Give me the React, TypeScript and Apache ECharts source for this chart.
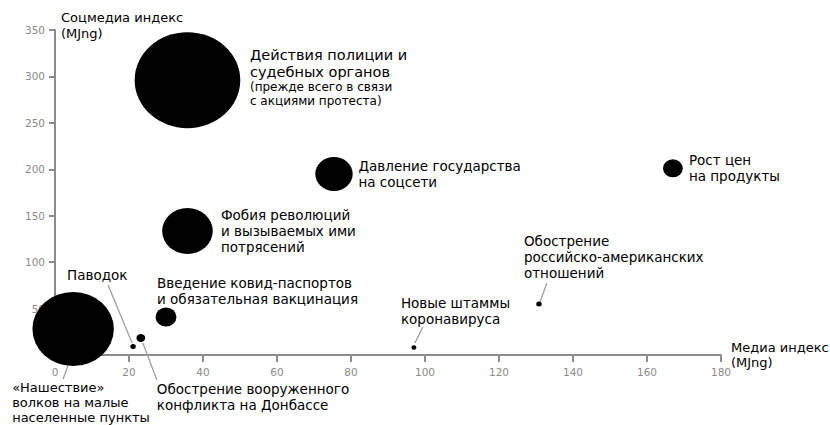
import { useEffect, useRef } from "react";
import * as echarts from "echarts";

// ---- data ----
const topics = [
  "Действия полиции и судебных органов",
  "«Нашествие» волков на малые населенные пункты",
  "Фобия революций и вызываемых ими потрясений",
  "Давление государства на соцсети",
  "Рост цен на продукты",
  "Введение ковид-паспортов и обязательная вакцинация",
  "Обострение вооруженного конфликта на Донбассе",
  "Паводок",
  "Новые штаммы коронавируса",
  "Обострение российско-американских отношений",
];
const mediaIndex = [35.8, 4.9, 35.8, 75.4, 167, 30, 23.2, 21.1, 97, 130.8];
const socialIndex = [296, 28, 133.5, 195, 201, 41, 18.3, 9.2, 8, 55];
const bubbleSize = [96, 74, 46, 34, 18, 19, 8, 5, 4.5, 5];
const labelTexts = [
  "{a|Действия полиции и}\n{a|судебных органов}\n{b|(прежде всего в связи}\n{b|с акциями протеста)}",
  "«Нашествие»\nволков на малые\nнаселенные пункты",
  "Фобия революций\nи вызываемых ими\nпотрясений",
  "Давление государства\nна соцсети",
  "Рост цен\nна продукты",
  "Введение ковид-паспортов\nи обязательная вакцинация",
  "Обострение вооруженного\nконфликта на Донбассе",
  "Паводок",
  "Новые штаммы\nкоронавируса",
  "Обострение\nроссийско-американских\nотношений",
];
const xAxisTitle = "Медиа индекс\n(MJng)";
const yAxisTitle = "Соцмедиа индекс\n(MJng)";

// ---- layout (pixel offsets, styling only) ----
const labelOffsets: number[][] = [
  [62.5, -34],
  [-61, 50.5],
  [33.5, -24],
  [24.5, -15.5],
  [16, -16],
  [-9, -41.5],
  [16, 43],
  [-66, -79.5],
  [-13, -52.5],
  [-15, -70.5],
];
const labelFontSizes = [13.5, 13, 13.5, 13.5, 13.5, 13.5, 13.5, 13.5, 13.5, 13.5];
const labelLineHeights = [16, 15, 16, 16, 16, 16, 16, 16, 16, 16];
const leaderOffsets: Record<number, number[]> = {
  1: [-5, 36, -10, 50],
  6: [2, 5, 16, 42],
  7: [-25, -61.5, -1, -3.5],
  8: [1, -4.5, 9, -20.5],
  9: [1, -2, 8, -21],
};
const STRETCH_X = 1.1;
const FONT = "DejaVu Sans";
const TICK_FONT = "DejaVu Sans";
const AXIS_COLOR = "#8c8c8c";

export default function App() {
  const ref = useRef<HTMLDivElement>(null);

  useEffect(() => {
    document.body.style.margin = "0";
    if (!ref.current) return;
    const chart = echarts.init(ref.current, undefined, { renderer: "svg" });

    const scatterData = topics.map((name, i) => ({
      name,
      value: [mediaIndex[i], socialIndex[i], bubbleSize[i]],
      label: {
        offset: labelOffsets[i],
        fontSize: labelFontSizes[i],
        lineHeight: labelLineHeights[i],
      },
    }));

    const leaderData = Object.keys(leaderOffsets).map((k) => {
      const i = Number(k);
      return [mediaIndex[i], socialIndex[i], i];
    });

    chart.setOption({
      animation: false,
      backgroundColor: "#ffffff",
      grid: {
        left: 55,
        right: 109,
        top: 30,
        bottom: 70,
        containLabel: false,
        outerBoundsMode: "none",
      },
      xAxis: {
        type: "value",
        min: 0,
        max: 180,
        interval: 20,
        name: xAxisTitle,
        nameLocation: "end",
        nameGap: 10,
        nameMoveOverlap: false,
        nameTextStyle: {
          color: "#000",
          fontFamily: FONT,
          fontSize: 13,
          lineHeight: 15.5,
          align: "left",
          verticalAlign: "middle",
          padding: [0, 0, 12, 0],
        },
        splitLine: { show: false },
        axisLine: { show: true, onZero: false, lineStyle: { color: AXIS_COLOR, width: 2 } },
        axisTick: { show: true, inside: false, length: 7, lineStyle: { color: AXIS_COLOR, width: 2 } },
        axisLabel: {
          color: "#8a8a8a",
          fontFamily: TICK_FONT,
          fontSize: 10.5,
          margin: 11,
        },
      },
      yAxis: {
        type: "value",
        min: 0,
        max: 350,
        interval: 50,
        name: yAxisTitle,
        nameLocation: "end",
        nameGap: 20,
        nameMoveOverlap: false,
        nameTextStyle: {
          color: "#000",
          fontFamily: FONT,
          fontSize: 13,
          lineHeight: 15.5,
          align: "left",
          verticalAlign: "top",
          padding: [0, 0, 0, 6],
        },
        splitLine: { show: false },
        axisLine: { show: true, onZero: false, lineStyle: { color: AXIS_COLOR, width: 2 } },
        axisTick: { show: true, inside: false, length: 6, lineStyle: { color: AXIS_COLOR, width: 2 } },
        axisLabel: {
          color: "#8a8a8a",
          fontFamily: TICK_FONT,
          fontSize: 10.5,
          margin: 10,
          showMinLabel: false,
        },
      },
      series: [
        {
          type: "custom",
          name: "leaders",
          silent: true,
          clip: false,
          z: 1,
          data: leaderData,
          renderItem: (params: any, api: any) => {
            const p = api.coord([api.value(0), api.value(1)]);
            const o = leaderOffsets[api.value(2)];
            return {
              type: "line",
              shape: {
                x1: p[0] + o[0],
                y1: p[1] + o[1],
                x2: p[0] + o[2],
                y2: p[1] + o[3],
              },
              style: { stroke: "#a0a0a0", lineWidth: 1.3 },
            };
          },
        },
        {
          type: "scatter",
          name: "topics",
          clip: false,
          z: 2,
          symbol: "path://M0 50A50 50 0 1 1 100 50A50 50 0 1 1 0 50Z",
          symbolSize: (val: number[]) => [val[2] * STRETCH_X, val[2]],
          itemStyle: { color: "#000", opacity: 1 },
          emphasis: { disabled: true },
          data: scatterData,
          label: {
            show: true,
            position: "inside",
            align: "left",
            verticalAlign: "top",
            color: "#000",
            textBorderWidth: 0,
            fontFamily: FONT,
            fontSize: 13.5,
            lineHeight: 16,
            formatter: (p: any) => labelTexts[p.dataIndex],
            rich: {
              a: { fontFamily: FONT, fontSize: 14.5, lineHeight: 17, color: "#000" },
              b: { fontFamily: FONT, fontSize: 12, lineHeight: 14, color: "#000" },
            },
          },
        },
      ],
    });

    return () => chart.dispose();
  }, []);

  return <div ref={ref} style={{ width: 830, height: 425 }} />;
}
